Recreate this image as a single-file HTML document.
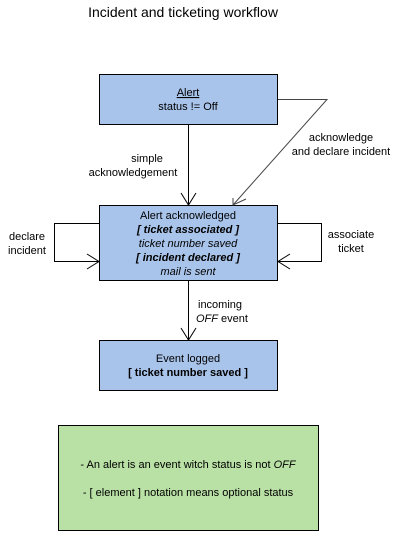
<!DOCTYPE html>
<html><head><style>
body{margin:0;background:#fff;}
svg text{font-family:"Liberation Sans",Arial,sans-serif;font-size:11px;fill:#000;}
</style></head><body>
<svg width="416" height="532" xmlns="http://www.w3.org/2000/svg">
<text x="183" y="17" text-anchor="middle" style="font-size:14px">Incident and ticketing workflow</text>
<rect x="99.5" y="74.5" width="178" height="50" fill="#a9c4eb" stroke="#000"/>
<text x="188" y="96" text-anchor="middle" text-decoration="underline">Alert</text>
<text x="188" y="110" text-anchor="middle">status != Off</text>
<rect x="99.5" y="205.5" width="178" height="75" fill="#a9c4eb" stroke="#000"/>
<text x="188" y="219" text-anchor="middle">Alert acknowledged</text>
<text x="188" y="233" text-anchor="middle" font-weight="bold"><tspan font-style="italic">[ ticket associated ]</tspan></text>
<text x="188" y="247" text-anchor="middle" font-style="italic">ticket number saved</text>
<text x="188" y="261" text-anchor="middle" font-weight="bold" font-style="italic">[ incident declared ]</text>
<text x="188" y="275" text-anchor="middle" font-style="italic">mail is sent</text>
<rect x="99.5" y="340.5" width="178" height="50" fill="#a9c4eb" stroke="#000"/>
<text x="188" y="362" text-anchor="middle">Event logged</text>
<text x="188" y="376" text-anchor="middle" font-weight="bold">[ ticket number saved ]</text>
<rect x="58.5" y="425.5" width="260" height="105" fill="#b9e0a5" stroke="#000"/>
<text x="188" y="468" text-anchor="middle">- An alert is an event witch status is  not <tspan font-style="italic">OFF</tspan></text>
<text x="188" y="496" text-anchor="middle">- [ element ] notation means optional status</text>
<g stroke="#000" fill="none">
<path d="M188.5 125V205M181 193L188.5 205L196 193"/>
<path d="M188.5 281V340M181 328L188.5 340L196 328"/>
<path d="M278 99.5H327L233 205" stroke="#444"/>
<path d="M233 198L233 205L246 199" stroke="#444"/>
<path d="M99 223.5H54.5V261.5H99M87 254L99 261.5L87 269"/>
<path d="M278 223.5H321.5V261.5H278M290 254L278 261.5L290 269"/>
</g>
<text x="147" y="162" text-anchor="middle">simple</text>
<text x="133" y="176" text-anchor="middle">acknowledgement</text>
<text x="341" y="141" text-anchor="middle">acknowledge</text>
<text x="341" y="155" text-anchor="middle">and declare incident</text>
<text x="27" y="240" text-anchor="middle">declare</text>
<text x="27" y="254" text-anchor="middle">incident</text>
<text x="351" y="238" text-anchor="middle">associate</text>
<text x="351" y="252" text-anchor="middle">ticket</text>
<text x="198" y="308">incoming</text>
<text x="196" y="322"><tspan font-style="italic">OFF</tspan> event</text>
</svg>
</body></html>
